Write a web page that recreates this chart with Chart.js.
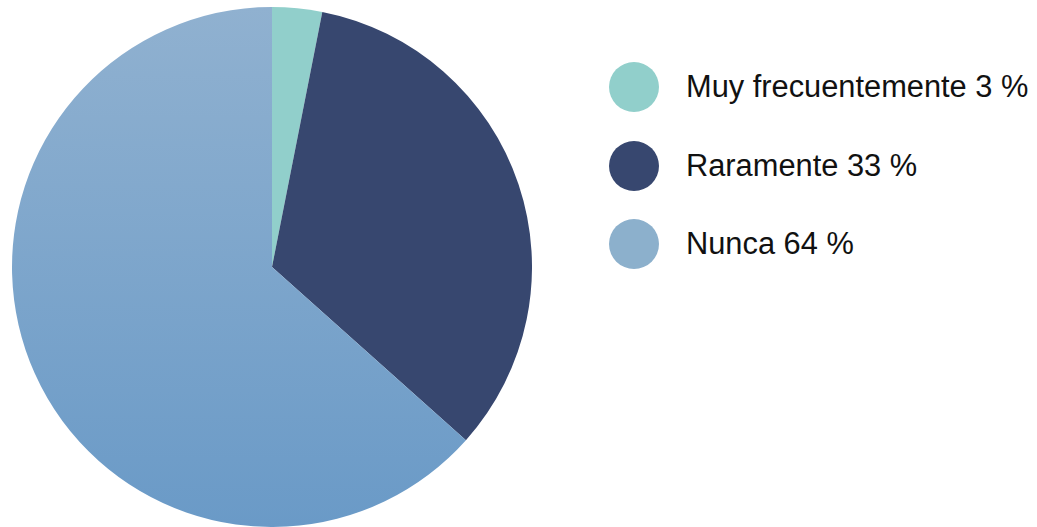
<!DOCTYPE html>
<html><head><meta charset="utf-8">
<script src="https://cdn.jsdelivr.net/npm/chart.js@4"></script>
<style>
html,body{margin:0;padding:0;background:#fff;width:1037px;height:527px;overflow:hidden;font-family:"Liberation Sans",Arial,sans-serif;}
#wrap{position:absolute;left:0;top:0;width:532px;height:527px;}
#legend{position:absolute;left:609px;top:0;}
.item{position:absolute;left:0;height:50px;display:flex;align-items:center;white-space:nowrap;}
.dot{width:50px;height:50px;border-radius:50%;margin-right:27px;flex:none;}
.lbl{font-size:30.8px;color:#111;}
</style></head><body>
<div id="wrap"><canvas id="c" width="532" height="527"></canvas></div>
<div id="legend"></div>
<script>
const categories = ["Muy frecuentemente", "Raramente", "Nunca"];
const values = [3.1, 33.5, 63.4];
const percentLabels = ["3 %", "33 %", "64 %"];
const colors = ["#91CFCB", "#37476F", "#8CB0CC"];
const gradTop = "#90B1D0";
const gradBottom = "#6A9AC7";

const legendTops = [62, 141, 219];
const legend = document.getElementById('legend');
categories.forEach((c,i)=>{
  const d=document.createElement('div');d.className='item';d.style.top=legendTops[i]+'px';
  d.innerHTML='<span class="dot" style="background:'+colors[i]+'"></span><span class="lbl">'+c+' '+percentLabels[i]+'</span>';
  legend.appendChild(d);
});

function bg(ctx){
  const i = ctx.dataIndex;
  if (i !== 2) return colors[i];
  const area = ctx.chart.chartArea;
  if (!area) return colors[2];
  const g = ctx.chart.ctx.createLinearGradient(0, area.top, 0, area.bottom);
  g.addColorStop(0, gradTop);
  g.addColorStop(1, gradBottom);
  return g;
}

new Chart(document.getElementById('c'), {
  type: 'pie',
  data: { labels: categories, datasets: [{ data: values, backgroundColor: bg, borderWidth: 0, hoverOffset: 0 }] },
  options: {
    responsive: false,
    animation: false,
    devicePixelRatio: 1,
    layout: { padding: { top: 7, left: 12, right: 0, bottom: 0 } },
    plugins: { legend: { display: false }, tooltip: { enabled: false } }
  }
});
</script>
</body></html>
